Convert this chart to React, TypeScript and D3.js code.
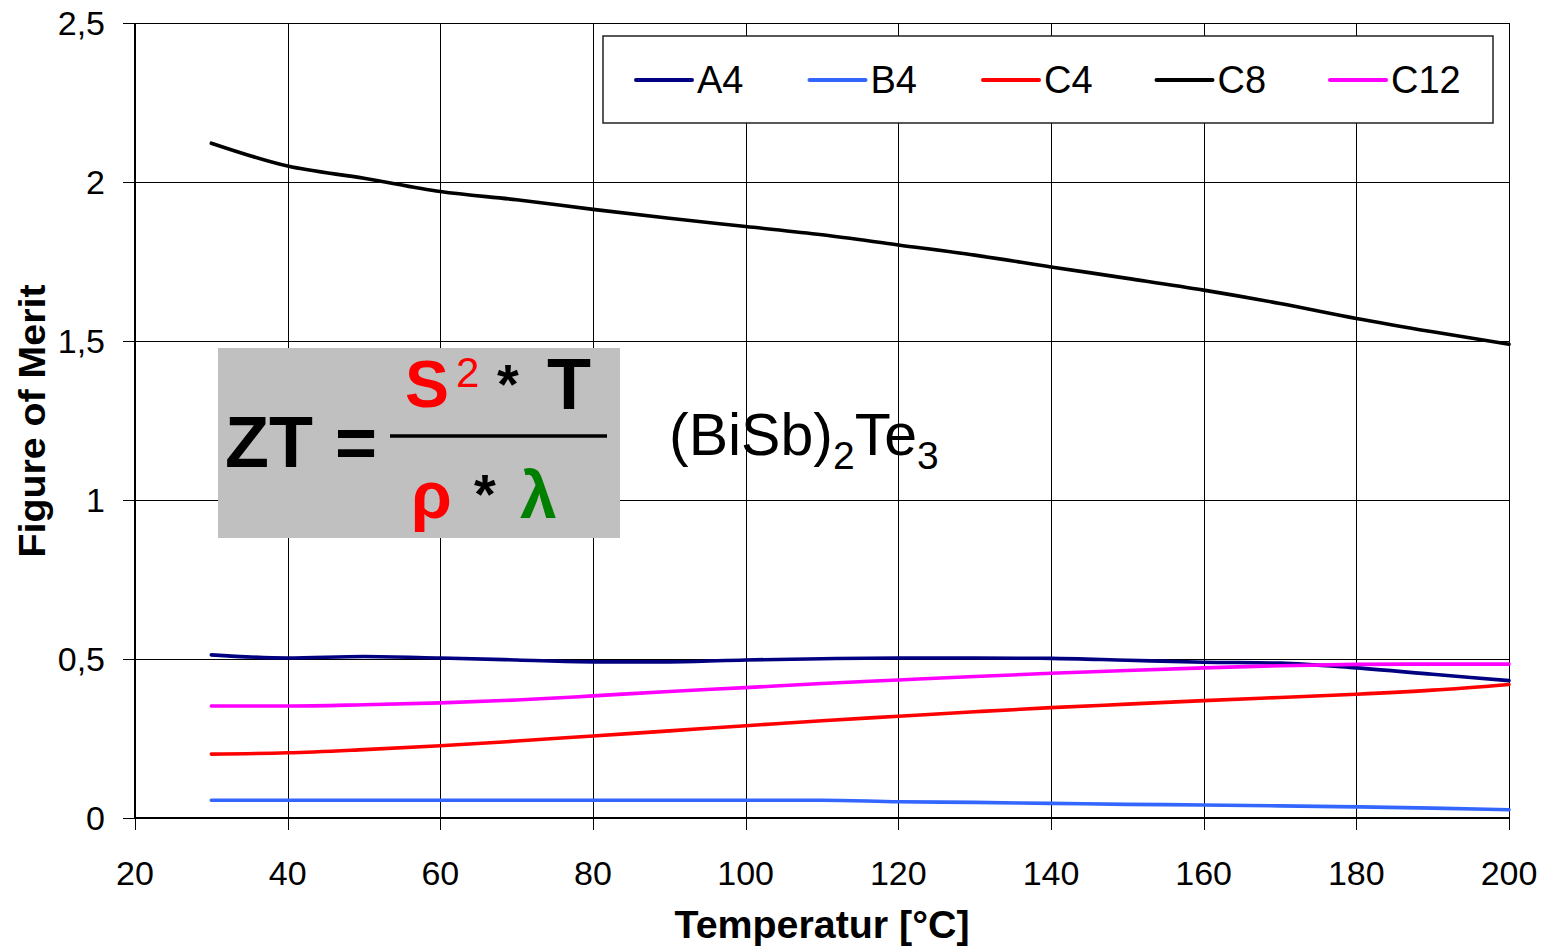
import React from "react";
import * as d3 from "d3";

const temps = [30, 40, 50, 60, 70, 80, 90, 100, 110, 120, 130, 140, 150, 160, 170, 180, 190, 200];
const A4 = [0.513, 0.503, 0.508, 0.503, 0.497, 0.491, 0.491, 0.497, 0.501, 0.503, 0.503, 0.502, 0.496, 0.49, 0.487, 0.472, 0.452, 0.432];
const B4 = [0.056, 0.056, 0.056, 0.056, 0.056, 0.056, 0.056, 0.056, 0.056, 0.051, 0.049, 0.046, 0.043, 0.041, 0.038, 0.035, 0.031, 0.026];
const C4 = [0.201, 0.205, 0.215, 0.227, 0.242, 0.258, 0.274, 0.29, 0.306, 0.32, 0.334, 0.347, 0.358, 0.369, 0.379, 0.389, 0.402, 0.42];
const C8 = [2.122, 2.05, 2.012, 1.97, 1.944, 1.914, 1.886, 1.86, 1.834, 1.802, 1.77, 1.733, 1.697, 1.66, 1.618, 1.571, 1.529, 1.49];
const C12 = [0.352, 0.352, 0.356, 0.362, 0.371, 0.384, 0.398, 0.41, 0.423, 0.434, 0.445, 0.455, 0.464, 0.472, 0.479, 0.483, 0.484, 0.484];

const seriesNames = ["A4", "B4", "C4", "C8", "C12"];
const seriesValues = [A4, B4, C4, C8, C12];
const seriesColors = ["#000080", "#3366FF", "#FF0000", "#000000", "#FF00FF"];

const xTicks = [20, 40, 60, 80, 100, 120, 140, 160, 180, 200];
const yTicks = [0, 0.5, 1, 1.5, 2, 2.5];

const FONT = "'Liberation Sans', Arial, sans-serif";

export default function App() {
  const W = 1545;
  const H = 947;
  const left = 135;
  const right = 1509;
  const top = 23;
  const bottom = 818;

  const x = d3.scaleLinear().domain([20, 200]).range([left, right]);
  const y = d3.scaleLinear().domain([0, 2.5]).range([bottom, top]);
  const px = (v: number) => Math.round(v) + 0.5;

  const line = d3
    .line<[number, number]>()
    .x((d) => x(d[0]))
    .y((d) => y(d[1]))
    .curve(d3.curveMonotoneX);

  const fmt = (v: number) => String(v).replace(".", ",");

  const legendX0 = 636;
  const legendStep = 173.5;

  return (
    <svg
      width={W}
      height={H}
      style={{ position: "absolute", left: 0, top: 0, background: "#fff" }}
      fontFamily={FONT}
    >
      <rect x={0} y={0} width={W} height={H} fill="#fff" />
      {/* grid */}
      {xTicks.map((t) => (
        <line key={"gx" + t} x1={px(x(t))} x2={px(x(t))} y1={top} y2={bottom + 12} stroke="#000" strokeWidth={1} shapeRendering="crispEdges" />
      ))}
      {yTicks.map((t) => (
        <line key={"gy" + t} x1={left - 12} x2={right} y1={px(y(t))} y2={px(y(t))} stroke="#000" strokeWidth={1} shapeRendering="crispEdges" />
      ))}
      <line x1={left} x2={left} y1={top} y2={bottom} stroke="#000" strokeWidth={2} shapeRendering="crispEdges" />
      <line x1={left} x2={right} y1={bottom} y2={bottom} stroke="#000" strokeWidth={2} shapeRendering="crispEdges" />

      {/* tick labels */}
      {xTicks.map((t) => (
        <text key={"tx" + t} x={x(t)} y={885} fontSize={34} textAnchor="middle" fill="#000">
          {t}
        </text>
      ))}
      {yTicks.map((t) => (
        <text key={"ty" + t} x={105} y={y(t)} dy="0.36em" fontSize={34} textAnchor="end" fill="#000">
          {fmt(t)}
        </text>
      ))}

      {/* axis titles */}
      <text x={822} y={938} fontSize={39} fontWeight="bold" textAnchor="middle" fill="#000" textLength={295} lengthAdjust="spacingAndGlyphs">
        Temperatur [°C]
      </text>
      <text
        transform={`translate(45, 421) rotate(-90)`}
        fontSize={37}
        fontWeight="bold"
        textAnchor="middle"
        fill="#000"
        textLength={273}
        lengthAdjust="spacingAndGlyphs"
      >
        Figure of Merit
      </text>

      {/* series */}
      {seriesValues.map((vals, i) => (
        <path
          key={seriesNames[i]}
          d={line(temps.map((t, j) => [t, vals[j]] as [number, number])) || ""}
          fill="none"
          stroke={seriesColors[i]}
          strokeWidth={3.6}
          strokeLinejoin="round"
          strokeLinecap="round"
        />
      ))}

      {/* legend */}
      <rect x={603} y={36} width={890} height={87} fill="#fff" stroke="#222" strokeWidth={1.5} />
      {seriesNames.map((n, i) => {
        const lx = legendX0 + i * legendStep;
        return (
          <g key={"lg" + n}>
            <line x1={lx} x2={lx + 56} y1={80} y2={80} stroke={seriesColors[i]} strokeWidth={4} strokeLinecap="round" />
            <text x={lx + 61} y={93} fontSize={38} fill="#000">
              {n}
            </text>
          </g>
        );
      })}

      {/* formula box */}
      <rect x={218} y={348} width={402} height={190} fill="#C0C0C0" />
      <text x={225} y={467} fontSize={72} fontWeight="bold" fill="#000">ZT</text>
      <text x={335} y={467} fontSize={72} fontWeight="bold" fill="#000">=</text>
      <line x1={390} x2={607} y1={436} y2={436} stroke="#000" strokeWidth={3.5} />
      <text x={405} y={407} fontSize={66} fontWeight="bold" fill="#FF0000">S</text>
      <text x={456} y={387} fontSize={42} fill="#FF0000">2</text>
      <text x={497} y={403} fontSize={56} fontWeight="bold" fill="#000">*</text>
      <text x={547} y={409} fontSize={72} fontWeight="bold" fill="#000">T</text>
      <text x={411} y={518} fontSize={66} fontWeight="bold" fill="#FF0000">ρ</text>
      <text x={474} y={513} fontSize={56} fontWeight="bold" fill="#000">*</text>
      <text x={520} y={518} fontSize={66} fontWeight="bold" fill="#008000">λ</text>

      {/* compound label */}
      <text x={669} y={455} fontSize={59} fill="#000">
        (BiSb)
        <tspan fontSize={39} dy={14}>2</tspan>
        <tspan dy={-14}>Te</tspan>
        <tspan fontSize={39} dy={14}>3</tspan>
      </text>
    </svg>
  );
}
